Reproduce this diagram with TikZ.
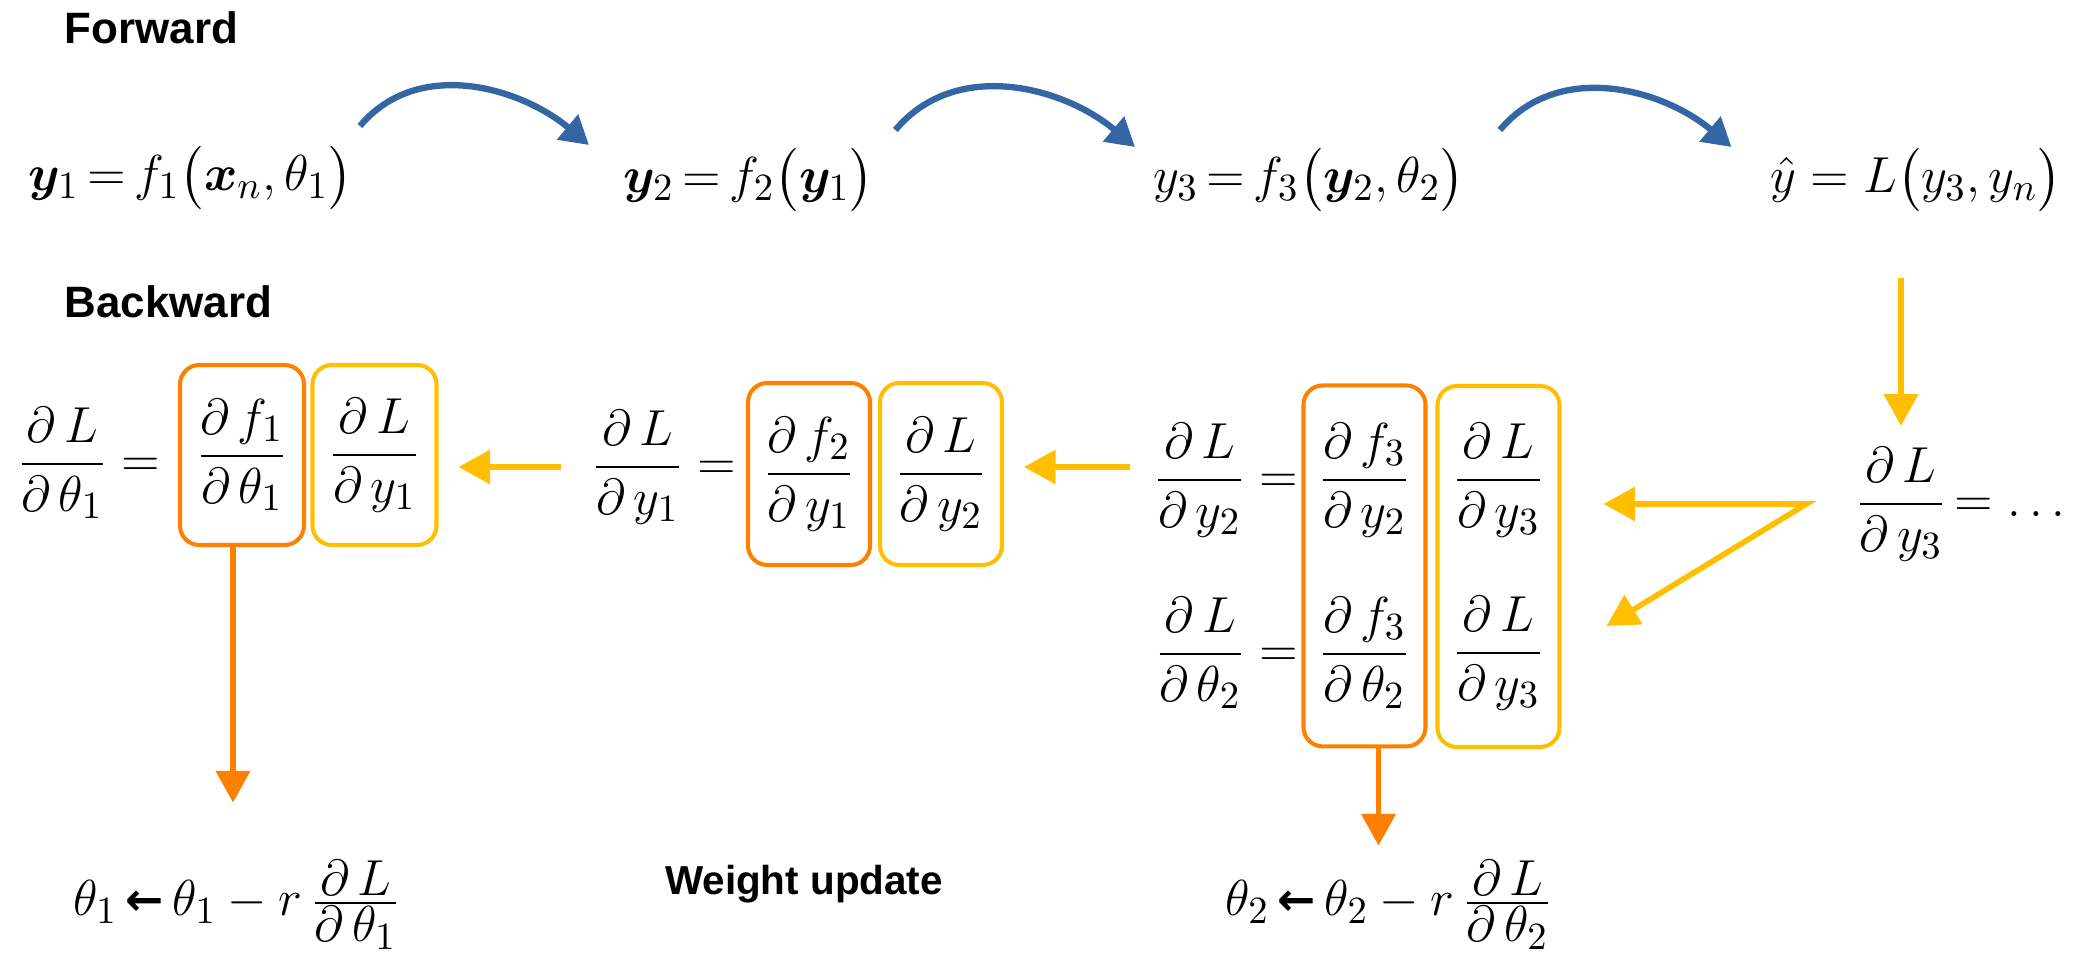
\documentclass[tikz,border=0pt]{standalone}
\usepackage{amsmath,amssymb,bm}
\usepackage{fontspec}
\setsansfont{Liberation Sans}
\newfontfamily\ChainArrFont{DejaVu Sans}
\usetikzlibrary{arrows.meta,positioning,calc,fit}
\newcommand{\ChainHdrFont}{\fontsize{12.5}{15}\selectfont\sffamily\bfseries}
\newcommand{\ChainNoteFont}{\fontsize{11.5}{14}\selectfont\sffamily\bfseries}
\newcommand{\ChainEqFont}{\fontsize{15}{18}\selectfont}
\newcommand{\ChainRowFont}{\fontsize{15}{18}\selectfont}
\newcommand{\pdfrac}[2]{\dfrac{\partial\,#1}{\partial\,#2}}
\newcommand{\pdfracT}[2]{\frac{\displaystyle\partial\,#1}{\displaystyle\partial\,#2}}
\newcommand{\updgets}{\,{\text{\ChainArrFont\bfseries\fontsize{13}{13}\selectfont ←}}\,}
\definecolor{FwdDraw}{RGB}{52,101,164}
\definecolor{BwdDraw}{RGB}{255,191,0}
\definecolor{UpdDraw}{RGB}{255,128,0}
\tikzset{
  every node/.style={align=center},
  %% text
  hdrTxt/.style={font=\ChainHdrFont, anchor=west, inner sep=0pt},
  noteTxt/.style={font=\ChainNoteFont, inner sep=0pt},
  rowTxt/.style={font=\ChainRowFont, inner sep=1pt},
  eqTxt/.style={font=\ChainEqFont, inner sep=1pt},
  %% boxes
  gradBox/.style={
    draw=UpdDraw,
    line width=1.15pt,
    rounded corners=5.5pt,
    inner sep=0pt,
    minimum width=1.22cm,
    font=\ChainEqFont,
  },
  chainBox/.style={gradBox, draw=BwdDraw},
  %% arrows
  fwdArr/.style={
    -{Triangle[length=8pt,width=9pt]},
    line width=1.8pt,
    FwdDraw,
  },
  bwdArr/.style={
    -{Triangle[length=9pt,width=9.5pt]},
    line width=1.6pt,
    BwdDraw,
  },
  updArr/.style={bwdArr, UpdDraw},
}

\begin{document}
\begin{tikzpicture}
\useasboundingbox (0,0) rectangle (20.75,-9.56);

%% ── Headers ────────────────────────────────────────────────────────────────
\node[hdrTxt] (FWD) at (0.64,-0.28) {Forward};
\node[hdrTxt] (BWD) at (0.64,-3.02) {Backward};

%% ── Forward row ────────────────────────────────────────────────────────────
\node[rowTxt, anchor=west] (Y1) at (0.24,-1.78) {$\bm{y}_1\,{=}\,f_1\bigl(\bm{x}_n,\theta_1\bigr)$};
\node[rowTxt, anchor=west] (Y2) at (6.19,-1.80) {$\bm{y}_2\,{=}\,f_2\bigl(\bm{y}_1\bigr)$};
\node[rowTxt, anchor=west] (Y3) at (11.49,-1.80) {$y_3\,{=}\,f_3\bigl(\bm{y}_2,\theta_2\bigr)$};
\node[rowTxt, anchor=east] (YH) at (20.66,-1.80) {$\hat{y}=L\bigl(y_3,y_n\bigr)$};

\draw[fwdArr] ([shift={(0.03,0.52)}]Y1.east) to[out=50,in=140] ([shift={(-0.30,0.35)}]Y2.west);
\draw[fwdArr] ([shift={(0.17,0.50)}]Y2.east) to[out=50,in=140] ([shift={(-0.14,0.33)}]Y3.west);
\draw[fwdArr] ([shift={(0.31,0.50)}]Y3.east) to[out=50,in=140] ([shift={(-0.35,0.33)}]YH.west);

%% ── Loss gradient ──────────────────────────────────────────────────────────
\node[eqTxt] (D3) at (19.01,-5.04) {$\pdfrac{L}{y_3}$};
\node[eqTxt, anchor=base west] (D3R) at (D3.base east) {$=\ldots$};

\draw[bwdArr, shorten <=0.62cm, shorten >=0.17cm] (YH.south -| D3.north) -- (D3.north);

%% ── Layer 3 ────────────────────────────────────────────────────────────────
\node[eqTxt] (F3A) at (13.645,-4.80) {$\pdfrac{f_3}{y_2}$};
\node[eqTxt] (F3B) at (13.645,-6.53) {$\pdfrac{f_3}{\theta_2}$};
\node[eqTxt] (G3A) at (14.985,-4.80) {$\pdfrac{L}{y_3}$};
\node[eqTxt] (G3B) at (14.985,-6.53) {$\pdfrac{L}{y_3}$};
\node[gradBox, fit=(F3A)(F3B), minimum height=3.61cm] (OB3) {};
\node[chainBox, fit=(G3A)(G3B), minimum height=3.61cm] (YB3) {};
\node[eqTxt, anchor=east] (L3A) at (13.02,-4.80) {$\pdfrac{L}{y_2}=$};
\node[eqTxt, anchor=east] (L3B) at (13.02,-6.53) {$\pdfrac{L}{\theta_2}=$};

\coordinate (fork) at ($(D3.west)+(-0.45,0)$);
\coordinate (tipA) at ($(YB3.east |- fork)+(0.42,0)$);
\coordinate (tipB) at ($(YB3.east |- fork)+(0.45,-1.22)$);
\draw[bwdArr, {Triangle[length=9pt,width=9.5pt]}-{Triangle[length=9pt,width=9.5pt]}]
  (tipA) -- (fork) -- (tipB);

%% ── Layer 2 ────────────────────────────────────────────────────────────────
\node[gradBox, minimum height=1.82cm] (OB2) at (8.09,-4.74) {$\pdfrac{f_2}{y_1}$};
\node[chainBox, minimum height=1.82cm] (YB2) at (9.41,-4.74) {$\pdfrac{L}{y_2}$};
\node[eqTxt, anchor=east] (L2) at (7.40,-4.67) {$\pdfrac{L}{y_1}=$};

\draw[bwdArr, shorten <=0.20cm, shorten >=0.20cm] (L2.east -| L3A.west) -- (L2.east -| YB2.east);

%% ── Layer 1 ────────────────────────────────────────────────────────────────
\node[gradBox, minimum height=1.80cm, minimum width=1.24cm] (OB1) at (2.42,-4.55) {$\pdfrac{f_1}{\theta_1}$};
\node[chainBox, minimum height=1.80cm, minimum width=1.24cm] (YB1) at (3.745,-4.55) {$\pdfrac{L}{y_1}$};
\node[eqTxt, anchor=east] (L1) at (1.64,-4.63) {$\pdfrac{L}{\theta_1}=$};

\draw[bwdArr, shorten <=0.27cm, shorten >=0.20cm] (L2.west) -- (L2.west -| YB1.east);

%% ── Weight update ──────────────────────────────────────────────────────────
\node[eqTxt] (UP1) at (2.37,-9.05) {$\theta_1\updgets\theta_1-r\,\pdfracT{L}{\theta_1}$};
\node[eqTxt] (UP2) at (13.89,-9.05) {$\theta_2\updgets\theta_2-r\,\pdfracT{L}{\theta_2}$};
\node[noteTxt] (WU) at (8.04,-8.84) {Weight update};

\draw[updArr, shorten >=0.54cm] ($(OB1.south)+(-0.09,0)$) -- ($(OB1.south |- UP1.north)+(-0.09,0)$);
\draw[updArr, shorten >=0.11cm] ($(OB3.south)+(0.14,0)$) -- ($(OB3.south |- UP2.north)+(0.14,0)$);

\end{tikzpicture}
\end{document}
